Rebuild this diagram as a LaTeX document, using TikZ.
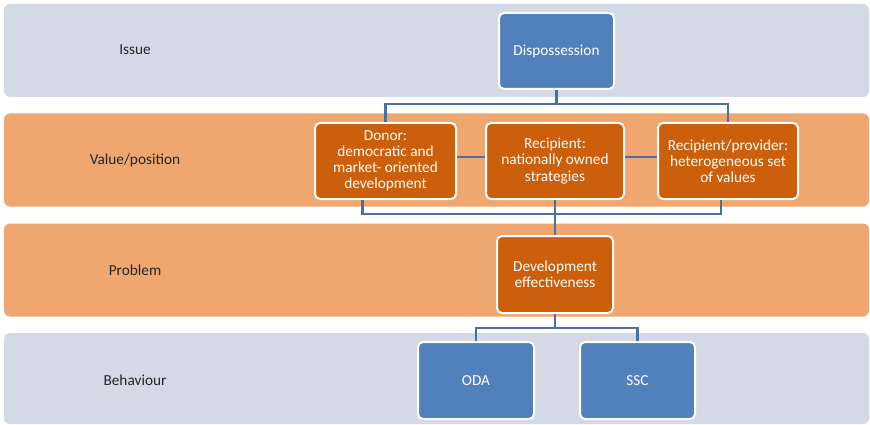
\documentclass[tikz,border=0pt]{standalone}
\usepackage{fontspec}
\setmainfont{Carlito}
\usepackage{xcolor}
\usepackage{tikz}
\usetikzlibrary{shapes,arrows,positioning}

\definecolor{bandblue}{HTML}{D3D9E7}
\definecolor{bandorange}{HTML}{EFA76F}
\definecolor{boxblue}{HTML}{5181BD}
\definecolor{boxorange}{HTML}{CB5F0B}
\definecolor{linkblue}{HTML}{4A6FA5}

\begin{document}
\begin{tikzpicture}[x=1pt, y=-1pt, node distance=28pt, auto,
  band/.style={rectangle, rounded corners=6pt, minimum width=865pt, minimum height=93pt, inner sep=0pt},
  lbl/.style={text=black!85, font=\fontsize{15.3}{16.2}\selectfont},
  card/.style={draw=white, line width=2pt, rectangle, rounded corners=5pt, text=white, align=center, minimum height=76pt, inner sep=2pt, font=\fontsize{15.3}{16.2}\selectfont},
  link/.style={draw=linkblue, line width=2.5pt}]
  \useasboundingbox (0,0) rectangle (870,425);

  % bands
  \node[band, fill=bandblue] (issueband) at (436.5,50.5) {};
  \node[band, fill=bandorange] (valueband) at (436.5,160) {};
  \node[band, fill=bandorange] (problemband) at (436.5,270) {};
  \node[band, fill=bandblue, minimum height=91pt] (behaviourband) at (436.5,378.5) {};

  \node[lbl] (issue) at (135,50) {Issue};
  \node[lbl] (value) at (135,160) {Value/position};
  \node[lbl] (problem) at (135,270) {Problem};
  \node[lbl] (behaviour) at (135,380) {Behaviour};

  % boxes
  \node[card, fill=boxblue, minimum width=115pt] (disp) at (556.5,51) {Dispossession};
  \node[card, fill=boxorange, minimum width=141pt] (donor) at (385.5,161) {Donor:\\democratic and\\market- oriented\\development};
  \node[card, fill=boxorange, minimum width=138pt, right=of donor] (recip) {Recipient:\\nationally owned\\strategies};
  \node[card, fill=boxorange, minimum width=140pt, right=32pt of recip] (prov) {Recipient/provider:\\heterogeneous set\\of values};
  \node[card, fill=boxorange, minimum width=116pt, minimum height=77pt, below=35pt of recip] (devel) {Development\\effectiveness};
  \node[card, fill=boxblue, minimum width=116pt, minimum height=77pt] (oda) at (476,380.5) {ODA};
  \node[card, fill=boxblue, minimum width=115pt, minimum height=77pt] (ssc) at (637.5,380.5) {SSC};

  % connectors
  \draw[link] (disp.south) -- ++(0,14) -| (donor.north);
  \draw[link] (disp.south) -- ++(0,14) -| (prov.north);
  \draw[link] ([yshift=4pt]donor.east) -- ([yshift=4pt]recip.west);
  \draw[link] ([yshift=4pt]recip.east) -- ([yshift=4pt]prov.west);
  \draw[link] ([xshift=-23pt]donor.south) -- ++(0,14) -| ([xshift=-7pt]prov.south);
  \draw[link] (recip.south) -- (devel.north);
  \draw[link] (devel.south) -- ++(0,14) -| (oda.north);
  \draw[link] (devel.south) -- ++(0,14) -| (ssc.north);
\end{tikzpicture}
\end{document}
